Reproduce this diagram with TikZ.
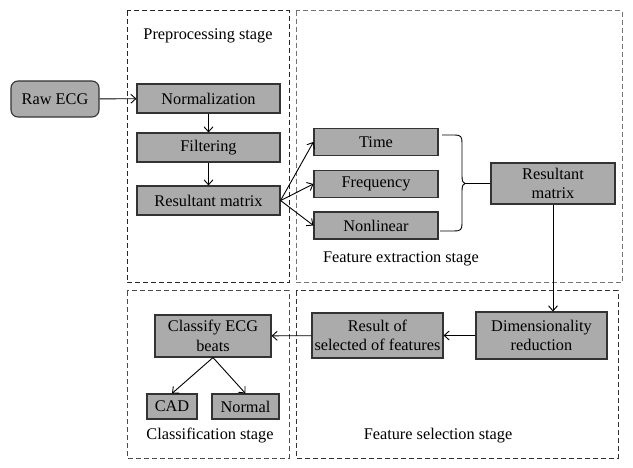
\documentclass[tikz,border=0pt]{standalone}
\usepackage{fontspec}
\setmainfont{Liberation Serif}
\usetikzlibrary{arrows.meta,positioning}

\begin{document}
\begin{tikzpicture} [x=1pt,y=-1pt,>={Straight Barb[length=5pt,width=9pt]},line width=0.9pt,
  font=\fontsize{16.3}{19.5}\selectfont,
  block/.style={draw=black!80,fill=black!33,line width=1.1pt,inner sep=0pt,align=center},
  stage/.style={dashed,dash pattern=on 5pt off 3pt,line width=1pt}]

  \useasboundingbox (0,0) rectangle (633,468);

  % stages
  \draw[stage,draw=black!85] (127,11) rectangle (289,283);
  \draw[stage,draw=black!55] (296,11) rectangle (622,283);
  \draw[stage,draw=black!70] (127,291) rectangle (289,458);
  \draw[stage,draw=black!80] (296,291) rectangle (618,458);

  \node (prepl) at (208,36) {Preprocessing stage};
  \node (extl) at (401,259) {Feature extraction stage};
  \node (classl) at (210,436) {Classification stage};
  \node (sell) at (438,436) {Feature selection stage};

  % blocks
  \node[block,rounded corners=7pt,minimum width=88pt,minimum height=36pt] (raw) at (55,99) {Raw ECG};
  \node[block,minimum width=143pt,minimum height=29pt] (norm) at (208.5,98.5) {Normalization};
  \node[block,minimum width=143pt,minimum height=29pt] (filt) at (208.5,147.5) {Filtering};
  \node[block,minimum width=143pt,minimum height=29pt] (resa) at (208.5,200.5) {Resultant matrix};

  \node[block,minimum width=124pt,minimum height=27pt] (time) at (376,142) {Time};
  \node[block,minimum width=124pt,minimum height=27pt] (freq) at (376,184) {Frequency};
  \node[block,minimum width=124pt,minimum height=27pt] (nonlin) at (376,225.5) {Nonlinear};
  \node[block,minimum width=124pt,minimum height=41pt] (resb) at (553,183.5) {Resultant\\matrix};

  \node[block,minimum width=131pt,minimum height=47pt] (dimred) at (541.5,335.5) {Dimensionality\\reduction};
  \node[block,minimum width=131pt,minimum height=45pt] (selres) at (377.5,335.5) {Result of\\selected of features};
  \node[block,minimum width=116pt,minimum height=42pt] (classify) at (213,336) {Classify ECG\\beats};
  \node[block,minimum width=50pt,minimum height=25pt] (cad) at (172,406.5) {CAD};
  \node[block,minimum width=67pt,minimum height=25pt] (normal) at (245.5,406.5) {Normal};

  % brace
  \coordinate (brtip) at (465,183.5);
  \draw (442,135) -- (455,135) .. controls (461,135) and (462,137) .. (462,143) -- (462,176)
    .. controls (462,181) and (463,183.5) .. (brtip)
    .. controls (463,183.5) and (462,186) .. (462,191) -- (462,224)
    .. controls (462,230) and (460,231) .. (454,231) -- (440,231);
  \draw (brtip) -- (resb.west);

  % connectors
  \draw[->] (raw) -- (norm);
  \draw[->] (norm) -- (filt);
  \draw[->] (filt) -- (resa);
  \draw[->] (resa.east) -- (time.west);
  \draw[->] (resa.east) -- (freq.west);
  \draw[->] (resa.east) -- (nonlin.west);
  \draw[->] (resb.south) -- (resb.south |- dimred.north);
  \draw[->] (dimred) -- (selres);
  \draw[->] (selres) -- (classify);
  \draw[->] (classify.south) -- (cad.north);
  \draw[->] (classify.south) -- (normal.north);

\end{tikzpicture}
\end{document}
